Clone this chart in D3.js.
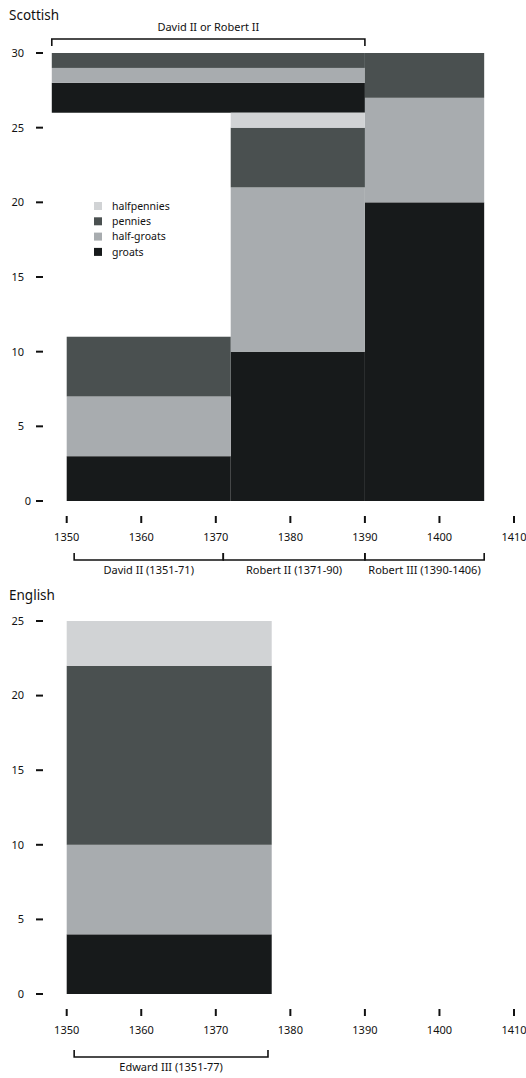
<!DOCTYPE html>
<html><head><meta charset="utf-8">
<script src="https://cdn.jsdelivr.net/npm/d3@7"></script>
<style>
html,body{margin:0;padding:0;background:#fff;}
text{font-family:"Noto Sans",sans-serif;fill:#111;}
</style></head>
<body>
<svg id="chart" width="526" height="1078"></svg>
<script>
// ---- data ----
const denominations = ["groats", "half-groats", "pennies", "halfpennies"];
const legendOrder = ["halfpennies", "pennies", "half-groats", "groats"];
const colors = ["#171a1b", "#a8acaf", "#4a5050", "#d1d3d5"];

const scotGroups = ["David II or Robert II", "David II", "Robert II", "Robert III"];
const scotStart = [1348, 1350, 1372, 1390];
const scotEnd = [1390, 1372, 1390, 1406];
const scotBase = [26, 0, 0, 0];
const scotGroats = [2, 3, 10, 20];
const scotHalfGroats = [1, 4, 11, 7];
const scotPennies = [1, 4, 4, 3];
const scotHalfpennies = [0, 0, 1, 0];

const engGroups = ["Edward III"];
const engStart = [1350];
const engEnd = [1377.5];
const engBase = [0];
const engGroats = [4];
const engHalfGroats = [6];
const engPennies = [12];
const engHalfpennies = [3];

const yearTicks = [1350, 1360, 1370, 1380, 1390, 1400, 1410];
const scotYTicks = [0, 5, 10, 15, 20, 25, 30];
const engYTicks = [0, 5, 10, 15, 20, 25];

const scotTopBracket = {label: "David II or Robert II", from: 1348, to: 1390};
const scotReignLabels = ["David II (1351-71)", "Robert II (1371-90)", "Robert III (1390-1406)"];
const scotReignFrom = [1351, 1371, 1390];
const scotReignTo = [1371, 1390, 1406];
const engReignLabels = ["Edward III (1351-77)"];
const engReignFrom = [1351];
const engReignTo = [1377];

// ---- drawing ----
const svg = d3.select("#chart");
const x = d3.scaleLinear().domain([1350, 1410]).range([66.7, 514]);
const color = d3.scaleOrdinal().domain(denominations).range(colors);

function drawPanel(cfg) {
  const g = svg.append("g");
  const y = d3.scaleLinear().domain(cfg.yDomain).range(cfg.yRange);
  const rows = cfg.groups.map((name, i) => ({
    name, start: cfg.start[i], end: cfg.end[i], base: cfg.base[i],
    groats: cfg.series[0][i], "half-groats": cfg.series[1][i],
    pennies: cfg.series[2][i], halfpennies: cfg.series[3][i]
  }));
  const stack = d3.stack().keys(denominations).offset((series, order) => {
    d3.stackOffsetNone(series, order);
    for (let j = 0; j < series[0].length; j++) {
      const b = rows[j].base;
      for (const k of order) { series[k][j][0] += b; series[k][j][1] += b; }
    }
  });
  const stacked = stack(rows);
  stacked.forEach(layer => {
    g.append("g").selectAll("rect").data(layer.filter(d => d[1] > d[0]))
      .join("rect")
      .attr("x", d => x(d.data.start))
      .attr("width", d => x(d.data.end) - x(d.data.start))
      .attr("y", d => y(d[1]))
      .attr("height", d => y(d[0]) - y(d[1]))
      .attr("fill", color(layer.key));
  });
  const ya = g.append("g");
  ya.selectAll("line").data(cfg.yTicks).join("line")
    .attr("x1", 36).attr("x2", 43)
    .attr("y1", d => y(d)).attr("y2", d => y(d))
    .attr("stroke", "#111").attr("stroke-width", 2);
  ya.selectAll("text").data(cfg.yTicks).join("text")
    .attr("x", d => (cfg.shiftZero && d === 0) ? 31 : 24)
    .attr("y", d => y(d)).attr("dy", "0.35em")
    .attr("text-anchor", "end").attr("font-size", 11)
    .text(d => d);
  const xa = g.append("g");
  xa.selectAll("line").data(yearTicks).join("line")
    .attr("x1", d => x(d)).attr("x2", d => x(d))
    .attr("y1", cfg.xTickY).attr("y2", cfg.xTickY + 7)
    .attr("stroke", "#111").attr("stroke-width", 2);
  xa.selectAll("text").data(yearTicks).join("text")
    .attr("x", d => x(d)).attr("y", cfg.xTickY + 25)
    .attr("text-anchor", "middle").attr("font-size", 11)
    .text(d => d);
  const br = g.append("g");
  cfg.reigns.forEach((lab, i) => {
    const x0 = x(cfg.reignFrom[i]), x1 = x(cfg.reignTo[i]);
    br.append("path")
      .attr("d", `M${x0},${cfg.bracketY - 7}V${cfg.bracketY}H${x1}V${cfg.bracketY - 7}`)
      .attr("fill", "none").attr("stroke", "#111").attr("stroke-width", 1.6);
    br.append("text").attr("x", (x0 + x1) / 2).attr("y", cfg.bracketY + 14)
      .attr("text-anchor", "middle").attr("font-size", 11).text(lab);
  });
  g.append("text").attr("x", 9).attr("y", cfg.titleY)
    .attr("font-size", 13.5).text(cfg.title);
  return {g, y};
}

drawPanel({
  title: "Scottish", titleY: 20,
  yDomain: [0, 30], yRange: [501, 53], yTicks: scotYTicks, shiftZero: true,
  groups: scotGroups, start: scotStart, end: scotEnd, base: scotBase,
  series: [scotGroats, scotHalfGroats, scotPennies, scotHalfpennies],
  xTickY: 516, bracketY: 560,
  reigns: scotReignLabels, reignFrom: scotReignFrom, reignTo: scotReignTo
});

{
  const x0 = x(scotTopBracket.from), x1 = x(scotTopBracket.to);
  svg.append("path")
    .attr("d", `M${x0},46V39H${x1}V46`)
    .attr("fill", "none").attr("stroke", "#111").attr("stroke-width", 1.6);
  svg.append("text").attr("x", (x0 + x1) / 2).attr("y", 31)
    .attr("text-anchor", "middle").attr("font-size", 11).text(scotTopBracket.label);
}

{
  const lg = svg.append("g");
  legendOrder.forEach((k, i) => {
    const yy = 206 + i * 15.3;
    lg.append("rect").attr("x", 94).attr("y", yy - 4).attr("width", 8).attr("height", 8)
      .attr("fill", color(k));
    lg.append("text").attr("x", 112).attr("y", yy).attr("dy", "0.35em")
      .attr("font-size", 10.5).text(k);
  });
}

drawPanel({
  title: "English", titleY: 600,
  yDomain: [0, 25], yRange: [994, 621], yTicks: engYTicks, shiftZero: false,
  groups: engGroups, start: engStart, end: engEnd, base: engBase,
  series: [engGroats, engHalfGroats, engPennies, engHalfpennies],
  xTickY: 1009, bracketY: 1057,
  reigns: engReignLabels, reignFrom: engReignFrom, reignTo: engReignTo
});
</script>
</body></html>
